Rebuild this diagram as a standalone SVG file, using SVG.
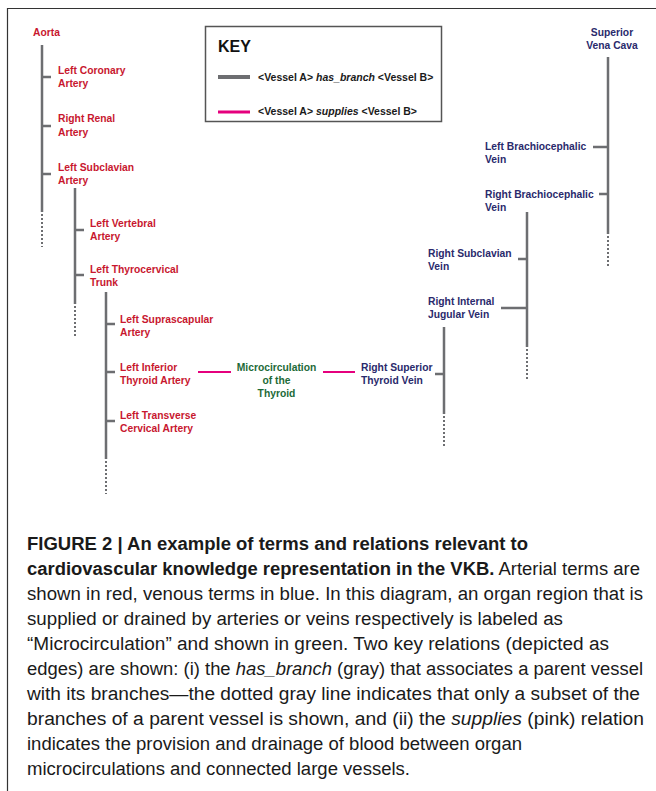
<svg xmlns="http://www.w3.org/2000/svg" width="656" height="791" viewBox="0 0 656 791">
<style>
.lbl{font-family:"Liberation Sans",Arial,sans-serif;font-weight:bold;font-size:10.3px}
.art{fill:#c8172f}
.ven{fill:#2a2a6c}
.mic{fill:#1d6a38}
.br{stroke:#6d6e71;stroke-width:2.5;fill:none}
.dot{stroke:#6d6e71;stroke-width:2;stroke-dasharray:2 2;fill:none}
.sup{stroke:#e5007d;stroke-width:2;fill:none}
.cap{font-family:"Liberation Sans",Arial,sans-serif;font-size:18px;fill:#1a1a1a}
.b{font-weight:bold}
.key{font-family:"Liberation Sans",Arial,sans-serif;font-weight:bold;font-size:10.5px;fill:#1a1a1a}
</style>
<rect width="656" height="791" fill="#ffffff"/>
<path d="M7.5 791 V8.5 H656" stroke="#333" stroke-width="1.2" fill="none"/>

<g id="key">
<rect x="205.5" y="26.5" width="236" height="95" fill="#fff" stroke="#555" stroke-width="1.5"/>
<text x="218" y="52" font-family="Liberation Sans,Arial,sans-serif" font-weight="bold" font-size="16" fill="#111">KEY</text>
<line x1="218" y1="77" x2="250" y2="77" stroke="#6d6e71" stroke-width="4"/>
<text class="key" x="258" y="81">&lt;Vessel A&gt; <tspan font-style="italic">has_branch</tspan> &lt;Vessel B&gt;</text>
<line x1="218" y1="112" x2="250" y2="112" stroke="#e5007d" stroke-width="3"/>
<text class="key" x="258" y="115">&lt;Vessel A&gt; <tspan font-style="italic">supplies</tspan> &lt;Vessel B&gt;</text>
</g>

<g id="connectors">
<path class="br" d="M42 45 V212 M42 77 H51 M42 126 H51 M42 174 H51"/>
<path class="dot" d="M42 214 V247"/>
<path class="br" d="M75 188 V304 M75 230 H84 M75 275 H84"/>
<path class="dot" d="M75 306 V338"/>
<path class="br" d="M106 292 V459 M106 324 H115 M106 372 H115 M106 421 H115"/>
<path class="dot" d="M106 461 V494"/>
<path class="sup" d="M198 372 H231 M323 372 H355"/>
<path class="br" d="M444 327 V414 M435 374 H444"/>
<path class="dot" d="M444 416 V448"/>
<path class="br" d="M527 212 V347 M518 259 H527 M501 308 H527"/>
<path class="dot" d="M527 349 V381"/>
<path class="br" d="M608 57 V234 M593 147 H608 M599 194 H608"/>
<path class="dot" d="M608 236 V268"/>
</g>

<g id="aorta"><text class="lbl art" x="33" y="36">Aorta</text></g>
<g id="left-coronary"><text class="lbl art" x="58" y="74">Left Coronary<tspan x="58" dy="13">Artery</tspan></text></g>
<g id="right-renal"><text class="lbl art" x="58" y="122">Right Renal<tspan x="58" dy="14">Artery</tspan></text></g>
<g id="left-subclavian"><text class="lbl art" x="58" y="171">Left Subclavian<tspan x="58" dy="13">Artery</tspan></text></g>
<g id="left-vertebral"><text class="lbl art" x="90" y="227">Left Vertebral<tspan x="90" dy="13">Artery</tspan></text></g>
<g id="left-thyrocervical"><text class="lbl art" x="90" y="273">Left Thyrocervical<tspan x="90" dy="13">Trunk</tspan></text></g>
<g id="left-suprascapular"><text class="lbl art" x="120" y="323">Left Suprascapular<tspan x="120" dy="13">Artery</tspan></text></g>
<g id="left-inferior-thyroid"><text class="lbl art" x="120" y="371">Left Inferior<tspan x="120" dy="13">Thyroid Artery</tspan></text></g>
<g id="left-transverse-cervical"><text class="lbl art" x="120" y="419">Left Transverse<tspan x="120" dy="13">Cervical Artery</tspan></text></g>
<g id="microcirculation"><text class="lbl mic" x="276.5" y="371" text-anchor="middle">Microcirculation<tspan x="276.5" dy="13">of the</tspan><tspan x="276.5" dy="13">Thyroid</tspan></text></g>
<g id="right-superior-thyroid"><text class="lbl ven" x="361" y="371">Right Superior<tspan x="361" dy="13">Thyroid Vein</tspan></text></g>
<g id="right-internal-jugular"><text class="lbl ven" x="428" y="305">Right Internal<tspan x="428" dy="13">Jugular Vein</tspan></text></g>
<g id="right-subclavian"><text class="lbl ven" x="428" y="257">Right Subclavian<tspan x="428" dy="13">Vein</tspan></text></g>
<g id="right-brachiocephalic"><text class="lbl ven" x="485" y="198">Right Brachiocephalic<tspan x="485" dy="13">Vein</tspan></text></g>
<g id="left-brachiocephalic"><text class="lbl ven" x="485" y="150">Left Brachiocephalic<tspan x="485" dy="13">Vein</tspan></text></g>
<g id="svc"><text class="lbl ven" x="612" y="36" text-anchor="middle">Superior<tspan x="612" dy="13">Vena Cava</tspan></text></g>

<g id="caption">
<text class="cap b" x="27" y="550" textLength="501" lengthAdjust="spacingAndGlyphs">FIGURE 2 | An example of terms and relations relevant to</text>
<text class="cap" x="27" y="575" textLength="613" lengthAdjust="spacingAndGlyphs"><tspan class="b">cardiovascular knowledge representation in the VKB.</tspan> Arterial terms are</text>
<text class="cap" x="27" y="600" textLength="616" lengthAdjust="spacingAndGlyphs">shown in red, venous terms in blue. In this diagram, an organ region that is</text>
<text class="cap" x="27" y="625" textLength="536" lengthAdjust="spacingAndGlyphs">supplied or drained by arteries or veins respectively is labeled as</text>
<text class="cap" x="27" y="650" textLength="582" lengthAdjust="spacingAndGlyphs">“Microcirculation” and shown in green. Two key relations (depicted as</text>
<text class="cap" x="27" y="675" textLength="616" lengthAdjust="spacingAndGlyphs">edges) are shown: (i) the <tspan font-style="italic">has_branch</tspan> (gray) that associates a parent vessel</text>
<text class="cap" x="27" y="700" textLength="613" lengthAdjust="spacingAndGlyphs">with its branches—the dotted gray line indicates that only a subset of the</text>
<text class="cap" x="27" y="725" textLength="617" lengthAdjust="spacingAndGlyphs">branches of a parent vessel is shown, and (ii) the <tspan font-style="italic">supplies</tspan> (pink) relation</text>
<text class="cap" x="27" y="750" textLength="495" lengthAdjust="spacingAndGlyphs">indicates the provision and drainage of blood between organ</text>
<text class="cap" x="27" y="775" textLength="383" lengthAdjust="spacingAndGlyphs">microcirculations and connected large vessels.</text>
</g>
</svg>
